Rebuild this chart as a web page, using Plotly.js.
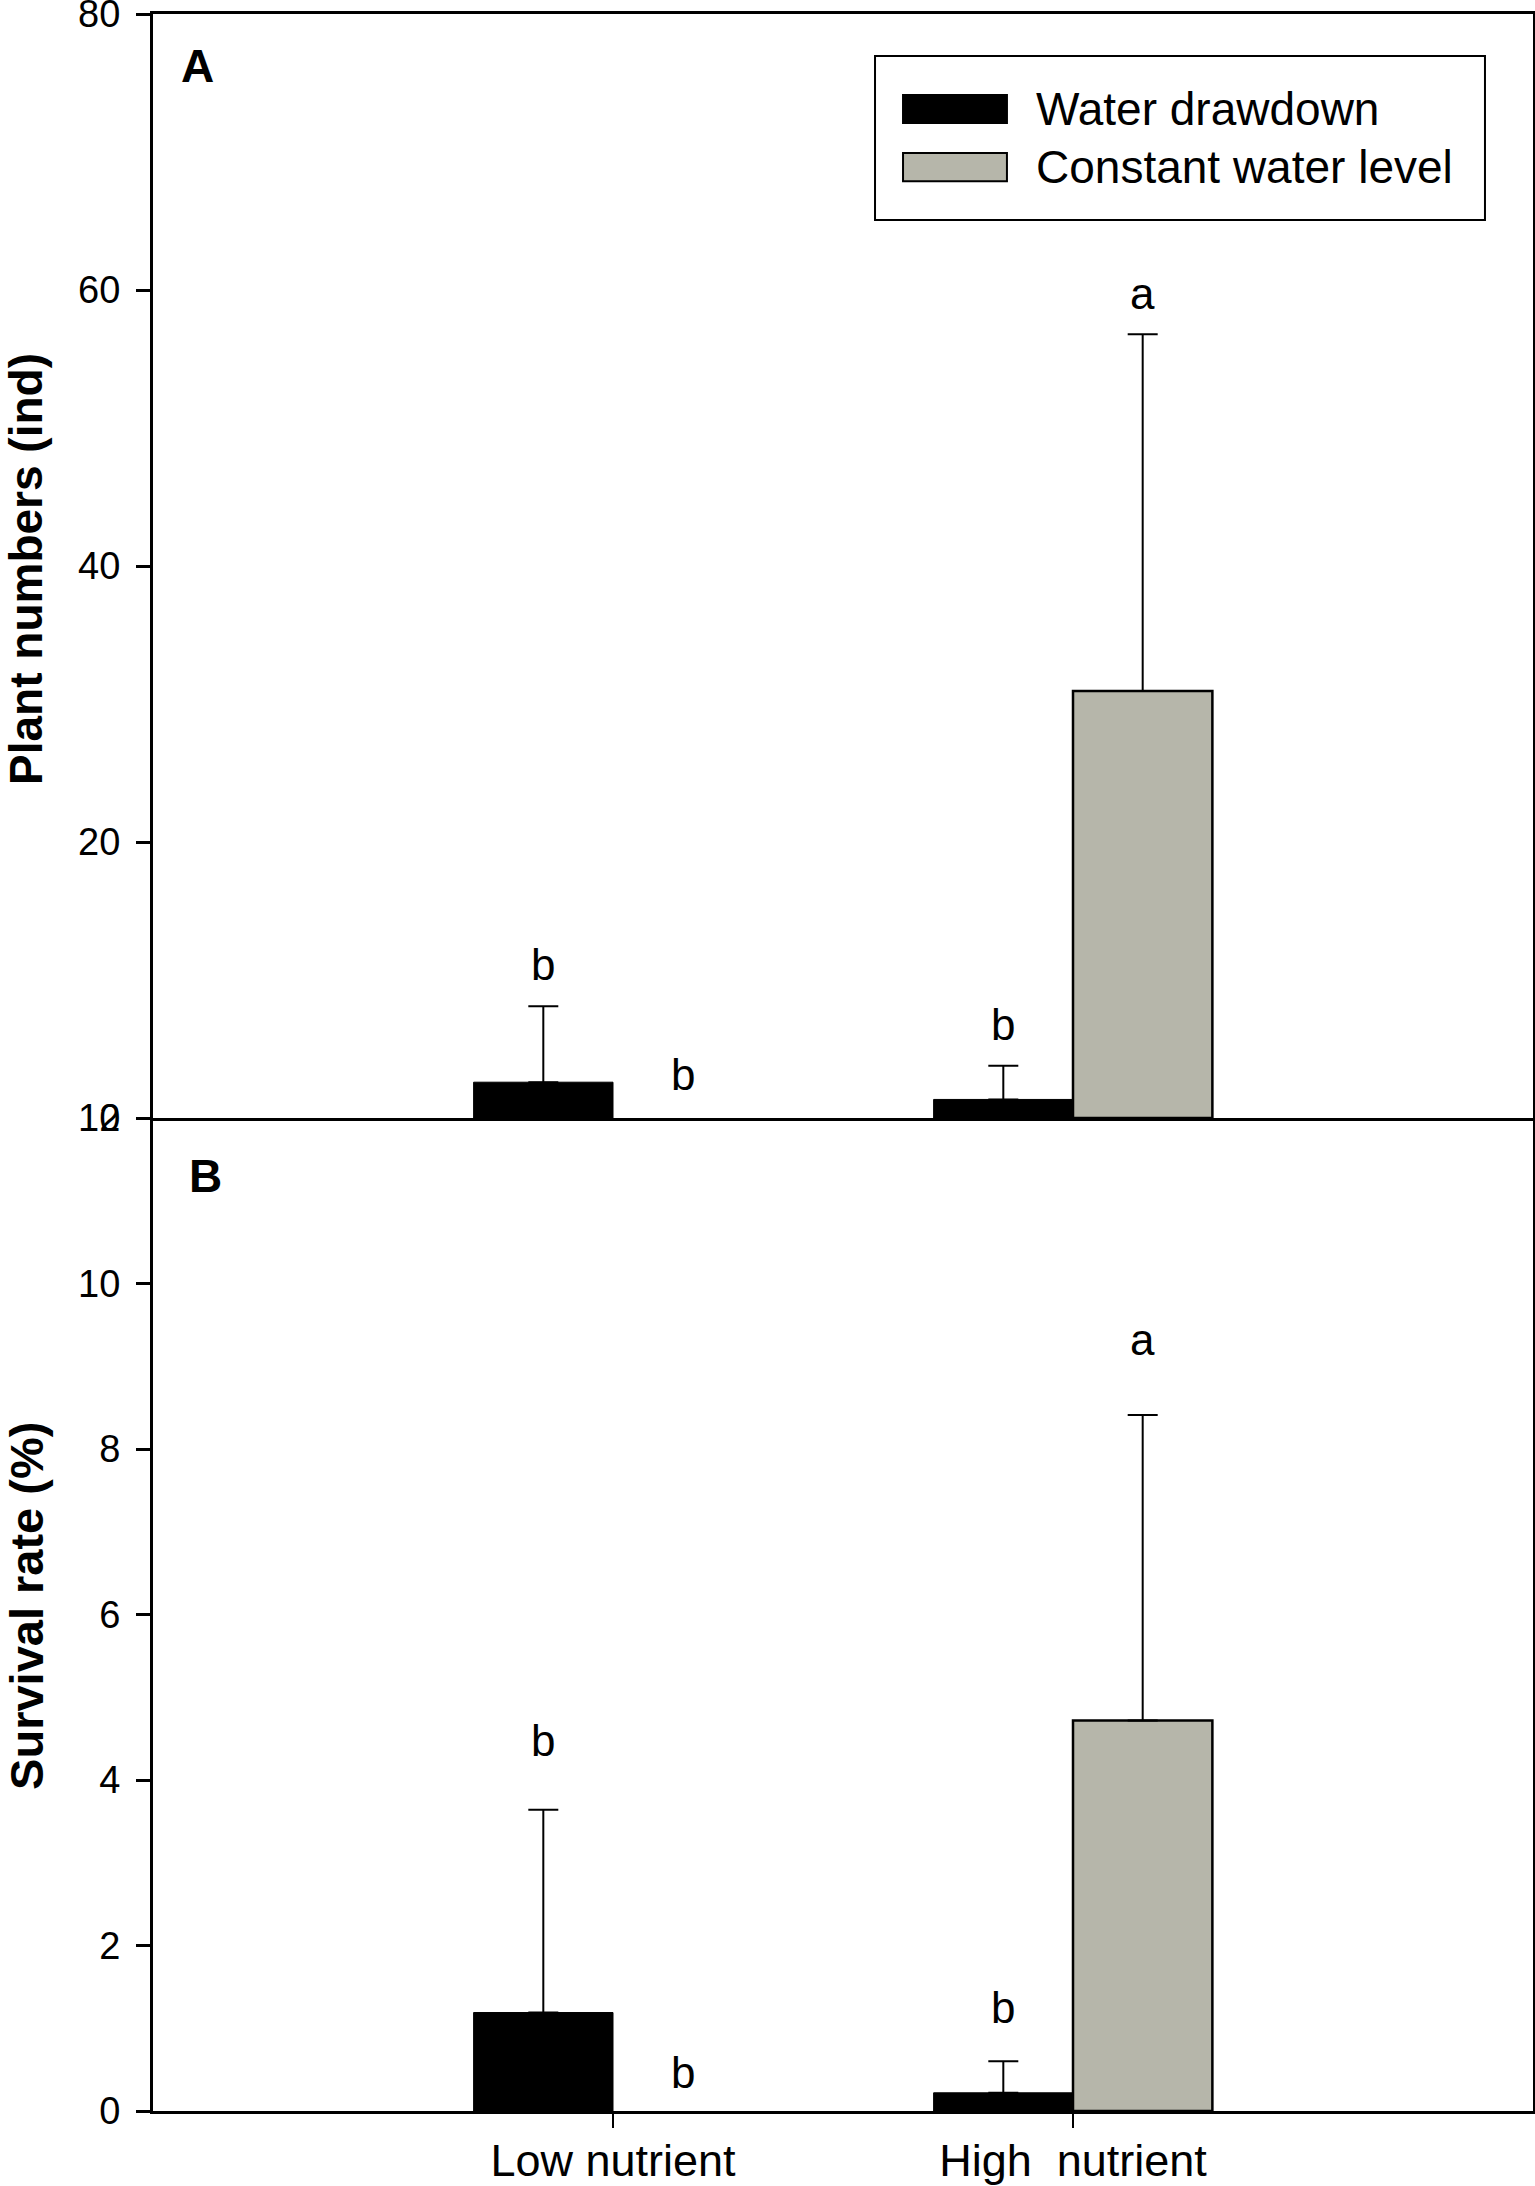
<!DOCTYPE html>
<html><head><meta charset="utf-8">
<script src="https://cdn.plot.ly/plotly-3.0.1.min.js"></script>
<style>html,body{margin:0;padding:0;background:#fff}#chart{width:1535px;height:2186px}</style>
</head><body><div id="chart"></div>
<script>
// ---- data ----
const categories = ['Low nutrient', 'High  nutrient'];
const seriesNames = ['Water drawdown', 'Constant water level'];
const seriesColors = ['#000000', '#b6b6aa'];

const plantDrawdown = [2.6, 1.35];
const plantDrawdownErr = [5.5, 2.44];
const plantConstant = [0, 30.95];
const plantConstantErr = [0, 25.85];

const survDrawdown = [1.19, 0.22];
const survDrawdownErr = [2.45, 0.38];
const survConstant = [0, 4.72];
const survConstantErr = [0, 3.69];

const plantLettersDrawdown = ['b', 'b'];
const plantLettersConstant = ['b', 'a'];
const survLettersDrawdown = ['b', 'b'];
const survLettersConstant = ['b', 'a'];
// baseline heights of the significance letters (data units)
const plantLetterYDrawdown = [9.93, 5.58];
const plantLetterYConstant = [1.96, 58.55];
const survLetterYDrawdown = [4.28, 1.05];
const survLetterYConstant = [0.26, 9.12];

const plantTicks = [0, 20, 40, 60, 80];
const survTicks = [0, 2, 4, 6, 8, 10, 12];
const panelLabels = ['A', 'B'];
const yTitles = ['Plant numbers (ind)', 'Survival rate (%)'];

// ---- chart ----
const FONT = 'Liberation Sans, Arial, Helvetica, sans-serif';
const xIdx = categories.map((c, i) => i);
const bargap = 0.394;
const barW = (1 - bargap) / 2;

function barTrace(vals, errs, k, xa, ya) {
  return {
    type: 'bar', x: xIdx, y: vals, name: seriesNames[k], xaxis: xa, yaxis: ya,
    showlegend: false, hoverinfo: 'none',
    marker: {color: seriesColors[k],
             line: {color: '#000', width: vals.map(v => v > 0 ? (k === 0 ? 1 : 2.5) : 0)}},
    error_y: {type: 'data', symmetric: false,
              array: errs.map((e, i) => vals[i] > 0 ? e : NaN),
              arrayminus: errs.map((e, i) => vals[i] > 0 ? 0 : NaN),
              color: '#000', thickness: 2, width: 15}
  };
}

const data = [
  barTrace(plantDrawdown, plantDrawdownErr, 0, 'x2', 'y2'),
  barTrace(plantConstant, plantConstantErr, 1, 'x2', 'y2'),
  barTrace(survDrawdown, survDrawdownErr, 0, 'x', 'y'),
  barTrace(survConstant, survConstantErr, 1, 'x', 'y')
];

const annotations = [];
function letters(labels, ys, k, xa, ya) {
  labels.forEach((t, i) => {
    annotations.push({
      xref: xa, yref: ya, x: i + (k === 0 ? -1 : 1) * barW / 2, y: ys[i],
      text: t, showarrow: false, xanchor: 'center', yanchor: 'bottom', yshift: -10,
      font: {family: FONT, size: 44, color: '#000'}
    });
  });
}
letters(plantLettersDrawdown, plantLetterYDrawdown, 0, 'x2', 'y2');
letters(plantLettersConstant, plantLetterYConstant, 1, 'x2', 'y2');
letters(survLettersDrawdown, survLetterYDrawdown, 0, 'x', 'y');
letters(survLettersConstant, survLetterYConstant, 1, 'x', 'y');

// panel letters
annotations.push({xref: 'paper', yref: 'paper', x: 0.0326, y: 0.9752, text: '<b>' + panelLabels[0] + '</b>',
  showarrow: false, xanchor: 'center', yanchor: 'middle', font: {family: FONT, size: 46, color: '#000'}});
annotations.push({xref: 'paper', yref: 'paper', x: 0.0377, y: 0.4459, text: '<b>' + panelLabels[1] + '</b>',
  showarrow: false, xanchor: 'center', yanchor: 'middle', font: {family: FONT, size: 46, color: '#000'}});

// y titles
const splitY = 0.4735;
annotations.push({xref: 'paper', yref: 'paper', x: -0.0922, y: (1 + splitY) / 2 - 0.0015, text: '<b>' + yTitles[0] + '</b>',
  textangle: -90, showarrow: false, xanchor: 'center', yanchor: 'middle', font: {family: FONT, size: 46, color: '#000'}});
annotations.push({xref: 'paper', yref: 'paper', x: -0.0922, y: splitY / 2 + 0.004, text: '<b>' + yTitles[1] + '</b>',
  textangle: -90, showarrow: false, xanchor: 'center', yanchor: 'middle', font: {family: FONT, size: 47, color: '#000'}});

// custom legend
const legendRows = [0.9547, 0.927];
const shapes = [
  {type: 'rect', xref: 'paper', yref: 'paper', x0: 0.5232, x1: 0.9652, y0: 0.9018, y1: 0.98,
   line: {color: '#000', width: 2}, fillcolor: '#fff', layer: 'above'}
];
seriesNames.forEach((n, k) => {
  shapes.push({type: 'rect', xref: 'paper', yref: 'paper', x0: 0.5435, x1: 0.6188,
    y0: legendRows[k] - 0.0067, y1: legendRows[k] + 0.0067,
    line: {color: '#000', width: 2}, fillcolor: seriesColors[k], layer: 'above'});
  annotations.push({xref: 'paper', yref: 'paper', x: 0.6384, y: legendRows[k], text: n,
    showarrow: false, xanchor: 'left', yanchor: 'middle', font: {family: FONT, size: 46, color: '#000'}});
});

const axisBase = {showline: true, linecolor: '#000', linewidth: 3, showgrid: false, zeroline: false};

const layout = {
  width: 1535, height: 2186,
  margin: {l: 153, r: 2, t: 14, b: 75, pad: 0},
  paper_bgcolor: '#fff', plot_bgcolor: '#fff',
  font: {family: FONT, color: '#000'},
  barmode: 'group', bargap: bargap, bargroupgap: 0,
  showlegend: false,
  xaxis: Object.assign({}, axisBase, {
    mirror: false,
    domain: [0, 1], anchor: 'y', range: [-1, 2], tickmode: 'array', tickvals: xIdx, ticktext: categories,
    ticks: 'outside', ticklen: 14, tickwidth: 2, tickcolor: '#000', ticklabelstandoff: -6,
    ticklabeloverflow: 'allow',
    tickfont: {family: FONT, size: 45, color: '#000'}
  }),
  yaxis: Object.assign({}, axisBase, {
    mirror: true,
    domain: [0, splitY], anchor: 'x', range: [0, 12], tickmode: 'array', tickvals: survTicks,
    ticks: 'outside', ticklen: 14, tickwidth: 3, tickcolor: '#000', ticklabelstandoff: 8,
    ticklabeloverflow: 'allow',
    tickfont: {family: FONT, size: 38, color: '#000'}
  }),
  xaxis2: Object.assign({}, axisBase, {
    mirror: true,
    domain: [0, 1], anchor: 'y2', range: [-1, 2], matches: 'x', showticklabels: false, ticks: ''
  }),
  yaxis2: Object.assign({}, axisBase, {
    mirror: true,
    domain: [splitY, 1], anchor: 'x2', range: [0, 80], tickmode: 'array', tickvals: plantTicks,
    ticks: 'outside', ticklen: 14, tickwidth: 3, tickcolor: '#000', ticklabelstandoff: 8,
    ticklabeloverflow: 'allow',
    tickfont: {family: FONT, size: 38, color: '#000'}
  }),
  annotations: annotations,
  shapes: shapes
};

Plotly.newPlot('chart', data, layout, {displayModeBar: false, staticPlot: true});
</script>
</body></html>
